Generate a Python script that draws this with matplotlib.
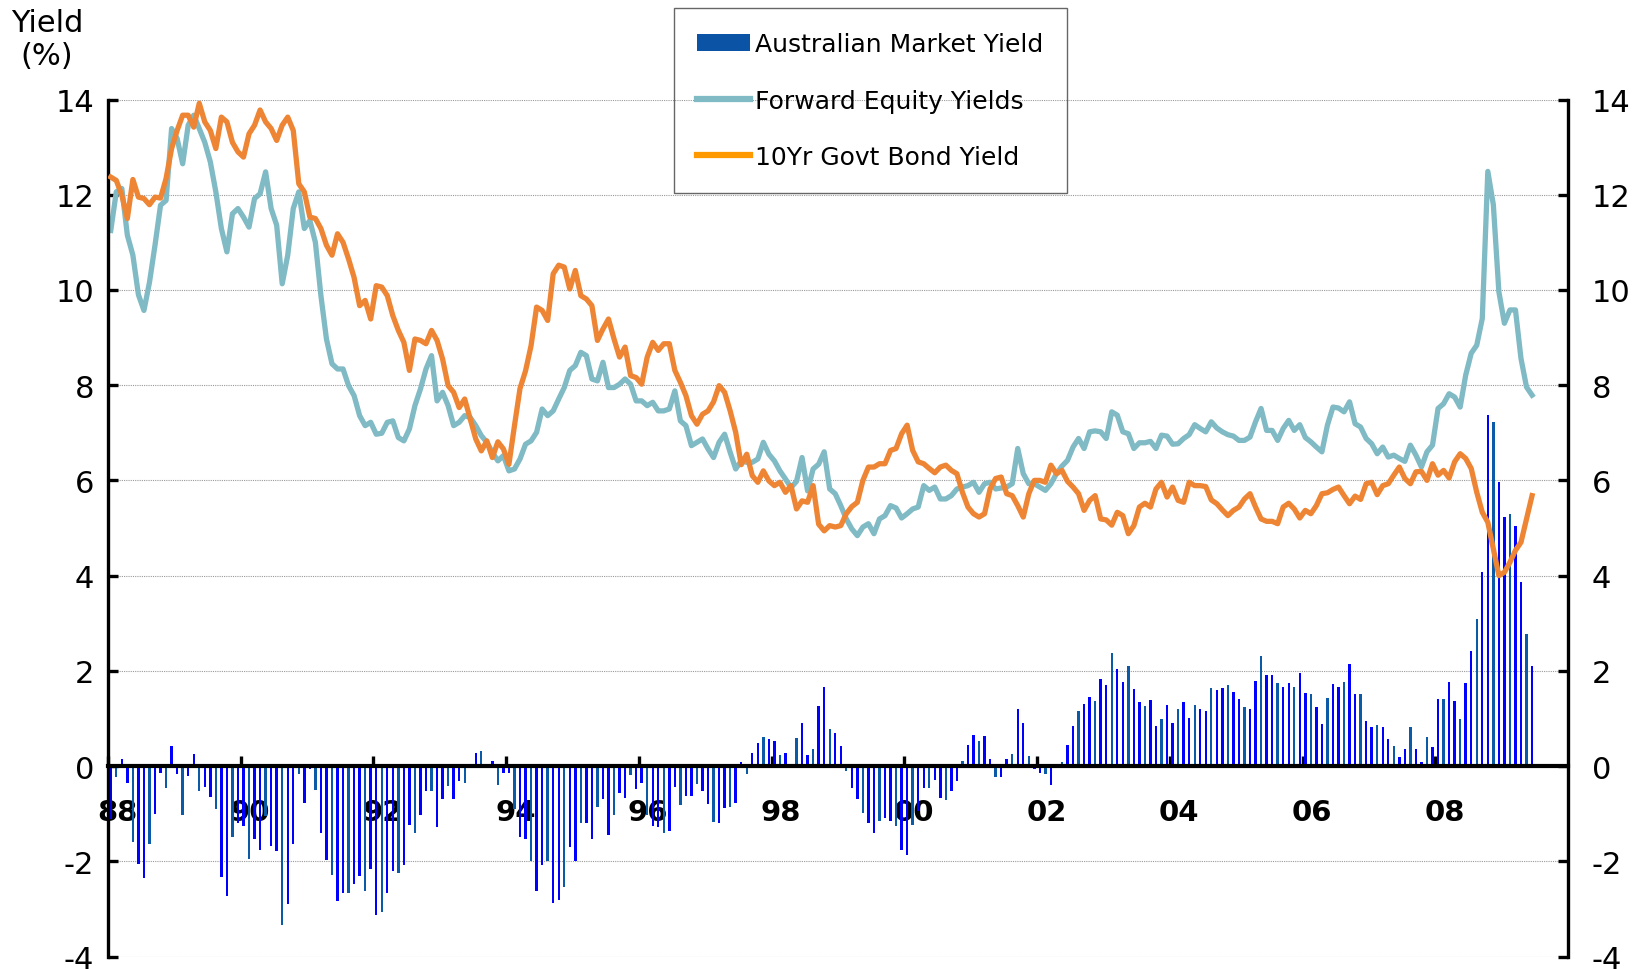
import matplotlib
matplotlib.use("Agg")
import matplotlib.pyplot as plt
from matplotlib.lines import Line2D
from matplotlib.patches import Patch
from matplotlib.ticker import FixedLocator, NullFormatter
import numpy as np

plt.rcParams['axes.unicode_minus'] = False

# monthly series, Jan 1988 - Jun 2009 (one row per year)
start_year = 1988
fwd_equity_yield = [
    11.25, 12.06, 12.13, 11.15, 10.73, 9.9, 9.57, 10.16, 10.94, 11.78, 11.88, 13.39,   # 88
    13.18, 12.65, 13.46, 13.67, 13.39, 13.1, 12.69, 12.06, 11.29, 10.8, 11.6, 11.71,   # 89
    11.53, 11.32, 11.92, 12.02, 12.48, 11.71, 11.36, 10.13, 10.73, 11.71, 12.06, 11.29,  # 90
    11.46, 11.0, 9.88, 8.97, 8.45, 8.34, 8.34, 7.99, 7.78, 7.36, 7.15, 7.22,   # 91
    6.97, 6.99, 7.22, 7.25, 6.9, 6.83, 7.08, 7.57, 7.92, 8.34, 8.62, 7.67,     # 92
    7.85, 7.57, 7.15, 7.22, 7.36, 7.32, 7.15, 6.94, 6.8, 6.59, 6.41, 6.52,     # 93
    6.2, 6.24, 6.45, 6.76, 6.83, 7.01, 7.5, 7.36, 7.46, 7.71, 7.95, 8.31,      # 94
    8.41, 8.69, 8.62, 8.13, 8.09, 8.48, 7.95, 7.95, 8.02, 8.13, 8.02, 7.67,    # 95
    7.67, 7.57, 7.64, 7.46, 7.46, 7.5, 7.88, 7.25, 7.15, 6.73, 6.8, 6.87,      # 96
    6.66, 6.48, 6.8, 6.97, 6.59, 6.24, 6.41, 6.38, 6.38, 6.45, 6.8, 6.55,      # 97
    6.41, 6.2, 6.03, 5.85, 5.98, 6.48, 5.78, 6.24, 6.34, 6.6, 5.82, 5.72,      # 98
    5.47, 5.19, 4.98, 4.84, 5.02, 5.09, 4.88, 5.19, 5.26, 5.47, 5.42, 5.21,    # 99
    5.3, 5.4, 5.44, 5.89, 5.79, 5.86, 5.61, 5.61, 5.68, 5.82, 5.86, 5.89,      # 00
    5.96, 5.75, 5.93, 5.96, 5.82, 5.84, 5.86, 5.93, 6.67, 6.14, 5.93, 5.93,    # 01
    5.86, 5.79, 5.93, 6.14, 6.3, 6.42, 6.7, 6.88, 6.67, 7.02, 7.04, 7.02,      # 02
    6.88, 7.44, 7.37, 7.02, 6.98, 6.67, 6.79, 6.79, 6.82, 6.67, 6.95, 6.93,    # 03
    6.76, 6.77, 6.88, 6.96, 7.17, 7.09, 7.02, 7.23, 7.1, 7.02, 6.96, 6.93,     # 04
    6.84, 6.84, 6.91, 7.23, 7.51, 7.05, 7.05, 6.84, 7.09, 7.26, 7.05, 7.17,    # 05
    6.9, 6.81, 6.7, 6.6, 7.16, 7.54, 7.52, 7.44, 7.65, 7.19, 7.12, 6.88,       # 06
    6.77, 6.56, 6.7, 6.49, 6.53, 6.46, 6.4, 6.74, 6.53, 6.28, 6.6, 6.74,       # 07
    7.51, 7.61, 7.82, 7.75, 7.54, 8.21, 8.67, 8.84, 9.4, 12.49, 11.79, 9.96,   # 08
    9.3, 9.58, 9.58, 8.56, 7.96, 7.79,                                         # 09
]
bond_yield = [
    12.37, 12.3, 11.99, 11.5, 12.32, 11.95, 11.92, 11.79, 11.95, 11.93, 12.34, 12.97,  # 88
    13.35, 13.67, 13.67, 13.42, 13.92, 13.53, 13.35, 12.97, 13.63, 13.53, 13.1, 12.9,  # 89
    12.79, 13.28, 13.46, 13.78, 13.53, 13.39, 13.14, 13.46, 13.63, 13.35, 12.23, 12.06,  # 90
    11.53, 11.5, 11.29, 10.94, 10.73, 11.18, 11.0, 10.65, 10.26, 9.67, 9.78, 9.39,  # 91
    10.09, 10.06, 9.88, 9.46, 9.15, 8.9, 8.31, 8.97, 8.94, 8.87, 9.15, 8.94,   # 92
    8.55, 7.99, 7.85, 7.53, 7.71, 7.29, 6.87, 6.62, 6.83, 6.48, 6.81, 6.66,    # 93
    6.34, 7.15, 7.93, 8.3, 8.83, 9.64, 9.57, 9.36, 10.34, 10.52, 10.48, 10.02, # 94
    10.41, 9.88, 9.81, 9.67, 8.94, 9.18, 9.39, 8.97, 8.59, 8.8, 8.2, 8.16,     # 95
    8.02, 8.59, 8.9, 8.73, 8.87, 8.87, 8.31, 8.06, 7.78, 7.36, 7.18, 7.39,     # 96
    7.46, 7.65, 7.99, 7.85, 7.46, 7.01, 6.33, 6.55, 6.1, 5.96, 6.2, 5.99,      # 97
    5.89, 5.96, 5.75, 5.89, 5.4, 5.57, 5.54, 5.89, 5.08, 4.94, 5.05, 5.02,     # 98
    5.05, 5.3, 5.45, 5.54, 6.0, 6.28, 6.28, 6.35, 6.35, 6.63, 6.67, 6.98,      # 99
    7.16, 6.63, 6.39, 6.35, 6.25, 6.16, 6.28, 6.32, 6.21, 6.14, 5.75, 5.44,    # 00
    5.3, 5.23, 5.3, 5.82, 6.04, 6.07, 5.72, 5.68, 5.47, 5.23, 5.72, 6.0,       # 01
    6.0, 5.96, 6.32, 6.14, 6.21, 5.98, 5.86, 5.72, 5.37, 5.58, 5.68, 5.19,     # 02
    5.17, 5.06, 5.33, 5.26, 4.88, 5.05, 5.44, 5.52, 5.44, 5.82, 5.96, 5.65,    # 03
    5.86, 5.58, 5.54, 5.96, 5.89, 5.89, 5.87, 5.59, 5.51, 5.38, 5.26, 5.37,    # 04
    5.44, 5.61, 5.72, 5.44, 5.19, 5.14, 5.14, 5.09, 5.44, 5.52, 5.4, 5.21,     # 05
    5.37, 5.3, 5.47, 5.72, 5.74, 5.81, 5.86, 5.68, 5.51, 5.67, 5.6, 5.93,      # 06
    5.96, 5.7, 5.89, 5.93, 6.11, 6.28, 6.04, 5.93, 6.18, 6.19, 6.0, 6.35,      # 07
    6.11, 6.21, 6.05, 6.39, 6.56, 6.46, 6.25, 5.75, 5.33, 5.12, 4.56, 4.0,     # 08
    4.07, 4.28, 4.53, 4.7, 5.19, 5.68,                                         # 09
]
year_ticks = list(range(1988, 2009, 2))
year_labels = ['88', '90', '92', '94', '96', '98', '00', '02', '04', '06', '08']
y_ticks = list(range(-4, 15, 2))

fey = np.array(fwd_equity_yield)
bond = np.array(bond_yield)
# bars = gap between forward equity yield and bond yield
market_yield = fey - bond
t = start_year + (np.arange(len(fey)) + 0.5) / 12.0

BAR_BLUE = '#0000FF'
BAR_STEEL = '#0B5AA8'
TEAL = '#80BAC4'
ORANGE = '#EE8534'

fig = plt.figure(figsize=(16.35, 9.70), dpi=100)
ax = fig.add_axes([108 / 1635, 1 - 957.5 / 970, 1460 / 1635, 857 / 970])

bar_colors = [BAR_STEEL if i % 3 == 1 else BAR_BLUE for i in range(len(t))]
ax.bar(t, market_yield, width=0.036, color=bar_colors, linewidth=0, zorder=1)
ax.plot(t, fey, color=TEAL, lw=3.8, solid_joinstyle='round', zorder=2)
ax.plot(t, bond, color=ORANGE, lw=3.8, solid_joinstyle='round', zorder=3)

ax.set_xlim(1988, 2010)
ax.set_ylim(-4, 14)
ax.set_yticks(y_ticks)
ax.yaxis.grid(True, linestyle=(0, (1, 1)), color='#9a9a9a', lw=0.8)
ax.set_axisbelow(True)

for s in ['top', 'right']:
    ax.spines[s].set_visible(False)
ax.spines['left'].set_linewidth(2.4)
ax.spines['bottom'].set_position(('data', 0))
ax.spines['bottom'].set_linewidth(3.0)
ax.spines['bottom'].set_zorder(4)

# year ticks on the zero line, labels nudged to the right
ax.xaxis.set_major_locator(FixedLocator(year_ticks))
ax.xaxis.set_major_formatter(NullFormatter())
ax.xaxis.set_minor_locator(FixedLocator([y + 0.14 for y in year_ticks]))
ax.set_xticklabels(year_labels, minor=True)
ax.tick_params(axis='x', which='major', direction='in', length=7, width=2.4)
ax.tick_params(axis='x', which='minor', length=0, pad=23, labelsize=21)
for lab in ax.get_xticklabels(minor=True):
    lab.set_fontweight('bold')

ax.tick_params(axis='y', direction='in', length=7, width=2.4, labelsize=22, pad=10)

ax2 = ax.twinx()
ax2.set_ylim(-4, 14)
ax2.set_yticks(y_ticks)
for s in ['top', 'left', 'bottom']:
    ax2.spines[s].set_visible(False)
ax2.spines['right'].set_linewidth(2.4)
ax2.tick_params(axis='y', direction='in', length=7, width=2.4, labelsize=22, pad=17)

fig.text(47 / 1635, 1 - 40 / 970, 'Yield\n(%)', ha='center', va='center',
         fontsize=22, linespacing=1.2)

handles = [
    Patch(facecolor='#0B53A5', edgecolor='none'),
    Line2D([], [], color=TEAL, lw=4.5),
    Line2D([], [], color='#FF9900', lw=4.5),
]
labels = ['Australian Market Yield', 'Forward Equity Yields', '10Yr Govt Bond Yield']
leg = fig.legend(handles, labels, loc='upper left',
                 bbox_to_anchor=(673.6 / 1635, 1 - 9.4 / 970),
                 fontsize=18, frameon=True, fancybox=False,
                 handlelength=2.1, handletextpad=0.2, labelspacing=1.3,
                 borderpad=0.95, borderaxespad=0)
leg.get_frame().set_facecolor('none')
leg.get_frame().set_edgecolor('#404040')
leg.get_frame().set_linewidth(1.0)

fig.savefig('out.png', dpi=100)
